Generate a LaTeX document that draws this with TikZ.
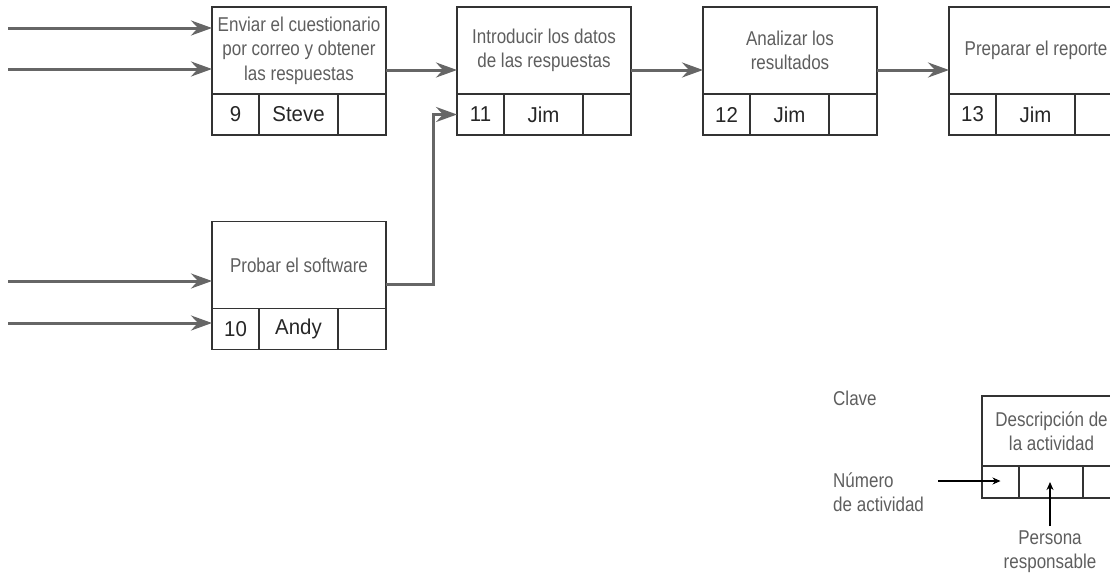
\documentclass[tikz,border=0pt]{standalone}
\usepackage{fontspec}
\setmainfont{Liberation Sans}[FakeStretch=0.85]
\newfontfamily\cellfont{Liberation Sans}[FakeStretch=0.95]
\usetikzlibrary{arrows.meta,calc}
\definecolor{boxline}{HTML}{333333}
\definecolor{desctext}{HTML}{5E5E5E}
\definecolor{celltext}{HTML}{262626}
\definecolor{flowgray}{HTML}{666666}
\tikzset{
  desc/.style={draw=boxline, line width=1.6pt, rectangle, inner sep=0pt, outer sep=0pt,
    minimum width=174pt, minimum height=87pt, text=desctext, align=center,
    font=\fontsize{20}{24.5}\selectfont},
  cell/.style={draw=boxline, line width=1.6pt, rectangle, inner sep=0pt, outer sep=0pt,
    minimum height=41pt, anchor=north west, text=celltext,
    font=\cellfont\fontsize{21.5}{24}\selectfont},
  kdesc/.style={draw=boxline, line width=1.3pt, rectangle, inner sep=0pt, outer sep=0pt,
    minimum width=139pt, minimum height=70pt, text=desctext, align=center,
    font=\fontsize{20}{24}\selectfont},
  kcell/.style={draw=boxline, line width=1.3pt, rectangle, inner sep=0pt, outer sep=0pt,
    minimum height=32pt, anchor=north west},
  flow/.style={draw=flowgray, line width=3pt,
    -{Stealth[length=21pt,width=15pt,inset=7pt,fill=flowgray]}},
  keyarrow/.style={draw=black, line width=1.1pt, -{Stealth[length=8pt,width=7pt,inset=2.5pt]}},
  keytext/.style={text=desctext, align=left, inner sep=0pt, font=\fontsize{20}{24}\selectfont}
}
\begin{document}
\begin{tikzpicture}[x=1pt,y=-1pt]
\useasboundingbox (0,0) rectangle (1110,576);

% activity 9
\node[desc] (a9) at (299,50.5) {Enviar el cuestionario\\por correo y obtener\\las respuestas};
\node[cell, minimum width=47pt] (a9n) at (a9.south west) {9};
\node[cell, minimum width=79pt] (a9p) at (a9n.north east) {Steve};
\node[cell, minimum width=48pt] (a9e) at (a9p.north east) {};

% activity 11
\node[desc] (a11) at (544,50.5) {Introducir los datos\\de las respuestas};
\node[cell, minimum width=47pt] (a11n) at (a11.south west) {11};
\node[cell, minimum width=79pt] (a11p) at (a11n.north east) {Jim};
\node[cell, minimum width=48pt] (a11e) at (a11p.north east) {};

% activity 12
\node[desc] (a12) at (790,50.5) {Analizar los\\resultados};
\node[cell, minimum width=47pt] (a12n) at (a12.south west) {12};
\node[cell, minimum width=79pt] (a12p) at (a12n.north east) {Jim};
\node[cell, minimum width=48pt] (a12e) at (a12p.north east) {};

% activity 13
\node[desc] (a13) at (1036,50.5) {Preparar el reporte};
\node[cell, minimum width=47pt] (a13n) at (a13.south west) {13};
\node[cell, minimum width=79pt] (a13p) at (a13n.north east) {Jim};
\node[cell, minimum width=48pt] (a13e) at (a13p.north east) {};

% activity 10
\node[desc] (a10) at (299,265) {Probar el software};
\node[cell, minimum width=47pt] (a10n) at (a10.south west) {10};
\node[cell, minimum width=79pt] (a10p) at (a10n.north east) {Andy};
\node[cell, minimum width=48pt] (a10e) at (a10p.north east) {};

% inputs
\coordinate (i1) at (8,28);
\coordinate (i2) at (8,69);
\coordinate (i3) at (8,281);
\coordinate (i4) at (8,323);
\draw[flow] (i1) -- (i1 -| a9.west);
\draw[flow] (i2) -- (i2 -| a9.west);
\draw[flow] (i3) -- (i3 -| a10.west);
\draw[flow] (i4) -- (i4 -| a10n.west);

% connections
\coordinate (r1) at (0,70);
\draw[flow] (r1 -| a9.east) -- (r1 -| a11.west);
\draw[flow] (r1 -| a11.east) -- (r1 -| a12.west);
\draw[flow] (r1 -| a12.east) -- (r1 -| a13.west);
\coordinate (e1) at (433,284);
\draw[flow] (e1 -| a10.east) -- (e1) |- (a11n.west);

% key
\node[keytext, anchor=west] (clave) at (833,398) {Clave};
\node[kdesc] (k) at (1051.5,431) {Descripción de\\la actividad};
\node[kcell, minimum width=37pt] (kn) at (k.south west) {};
\node[kcell, minimum width=64pt] (kp) at (kn.north east) {};
\node[kcell, minimum width=38pt] (ke) at (kp.north east) {};
\node[keytext, anchor=west] (numlab) at (833,492) {Número\\de actividad};
\node[keytext, align=center] (perslab) at (1050,552) {Persona\\responsable};
\coordinate (kaS) at (938,481);
\coordinate (kaU) at (1050,526);
\draw[keyarrow] (kaS) -- (kaS -| kn.center);
\draw[keyarrow] (kaU) -- (kaU |- kp.center);
\end{tikzpicture}
\end{document}
